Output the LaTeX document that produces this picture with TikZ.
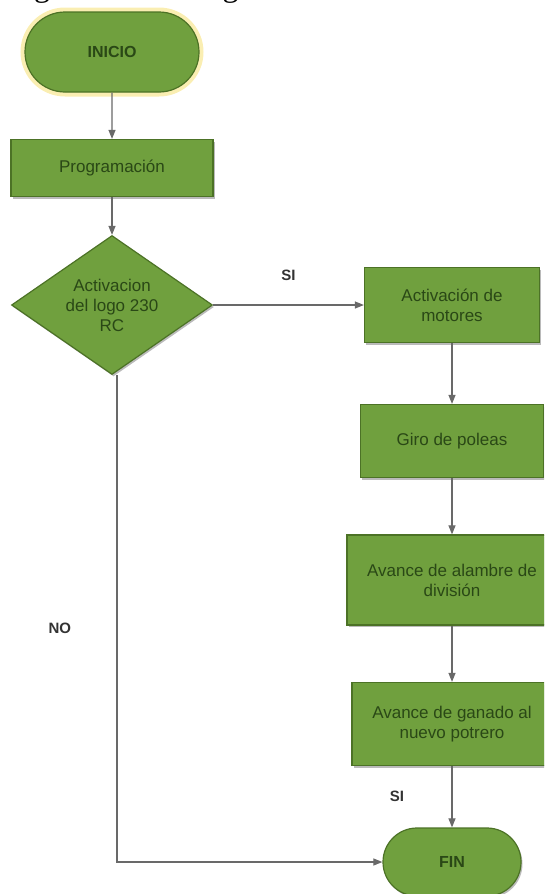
\documentclass[tikz,border=0pt]{standalone}
\usepackage{fontspec}
\setmainfont{Liberation Serif}
\newfontfamily\boxfont{Liberation Sans}
\usetikzlibrary{arrows.meta,shapes.geometric,shapes.misc,shadows}

\definecolor{leafgreen}{RGB}{112,160,62}
\definecolor{leafedge}{RGB}{76,114,38}
\definecolor{leaftext}{RGB}{42,72,22}
\definecolor{wiregray}{RGB}{105,105,105}
\definecolor{halo}{RGB}{250,238,178}

\begin{document}
\begin{tikzpicture}[x=1pt,y=-1pt,
  proc/.style={rectangle,draw=leafedge,line width=1.2pt,fill=leafgreen,
    text=leaftext,font=\boxfont\fontsize{17}{20}\selectfont,align=center,
    inner sep=2pt,
    drop shadow={shadow xshift=1.5pt,shadow yshift=-2pt,fill=black!45,opacity=.6}},
  term/.style={proc,rounded rectangle,
    font=\boxfont\bfseries\fontsize{16}{19}\selectfont},
  deci/.style={proc,diamond,aspect=1.45,inner sep=0pt},
  conn/.style={draw=wiregray,line width=1.1pt,-{Triangle[length=9pt,width=7pt]}},
  lbl/.style={font=\boxfont\bfseries\fontsize{15}{18}\selectfont,text=black!80}]

% Page frame; the caption sits above it and is cut off.
\useasboundingbox (0,0) rectangle (544,894);
\clip (0,0) rectangle (544,894);
\node[anchor=base west,font=\fontsize{32}{36}\selectfont] (caption) at (4,-4)
  {Figura 37-3. Diagrama de funcionamiento};

% Left column: start, programming and the decision.
\node[term,minimum width=178pt,minimum height=80pt,
  preaction={draw=halo,line width=9pt}] (inicio) at (112,52) {INICIO};
\node[proc,minimum width=202pt,minimum height=57pt] (prog) at (112,168)
  {Programación};
\node[deci,minimum width=201pt,minimum height=139pt] (logo) at (112,305)
  {Activacion\\del logo 230\\RC};

% Right column.
\node[proc,minimum width=175pt,minimum height=75pt] (motores) at (452,305)
  {Activación de\\motores};
\node[proc,minimum width=183pt,minimum height=73pt] (poleas) at (452,441)
  {Giro de poleas};
\node[proc,minimum width=210pt,minimum height=90pt] (alambre) at (452,580)
  {Avance de alambre de\\división};
\node[proc,minimum width=200pt,minimum height=83pt] (ganado) at (452,724)
  {Avance de ganado al\\nuevo potrero};
\node[term,minimum width=142pt,minimum height=68pt] (fin) at (452,862) {FIN};

% Connectors.
\draw[conn] (inicio) -- (prog);
\draw[conn] (prog) -- (logo);
\draw[conn] (logo) -- node[lbl,above=20pt] {SI} (motores);
\draw[conn] (motores) -- (poleas);
\draw[conn] (poleas) -- (alambre);
\draw[conn] (alambre) -- (ganado);
\draw[conn] (ganado) -- node[lbl,left=44pt] {SI} (fin);
\draw[conn] ([xshift=5pt]logo.south) |- node[lbl,pos=0.26,left=42pt] {NO} (fin.west);

\end{tikzpicture}
\end{document}
